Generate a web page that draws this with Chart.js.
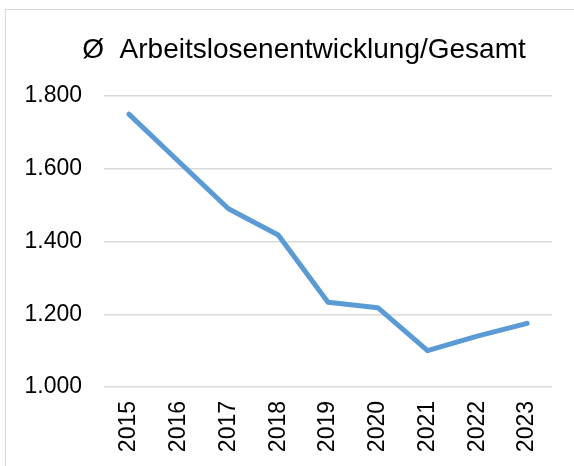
<!DOCTYPE html>
<html>
<head>
<meta charset="utf-8">
<script src="https://cdn.jsdelivr.net/npm/chart.js@4/dist/chart.umd.min.js"></script>
<style>
  html, body { margin: 0; padding: 0; background: #fff; overflow: hidden; }
  #frame { position: absolute; left: 5px; top: 9px; width: 620px; height: 520px; border: 1px solid #d9d9d9; }
  #wrap { position: absolute; left: 0; top: 0; width: 574px; height: 466px; }
</style>
</head>
<body>
<div id="frame"></div>
<div id="wrap"><canvas id="lineChart" width="574" height="466"></canvas></div>
<script>
// Daten
var years = ['2015', '2016', '2017', '2018', '2019', '2020', '2021', '2022', '2023'];
var arbeitslose = [1750, 1620, 1490, 1418, 1233, 1218, 1100, 1140, 1175];
var yTicks = [1000, 1200, 1400, 1600, 1800];
var chartTitle = 'Ø  Arbeitslosenentwicklung/Gesamt';

function fmtDe(v) {
    // 1800 -> 1.800
    return String(v).replace(/\B(?=(\d{3})+(?!\d))/g, '.');
}

var ctx = document.getElementById('lineChart').getContext('2d');
var fontFam = '"Liberation Sans", Arial, sans-serif';

// Titel etwas nach rechts versetzt (wie im Original, über dem ganzen Rahmen zentriert)
var titlePlugin = {
    id: 'titelText',
    afterDraw: function(chart) {
        var c = chart.ctx;
        c.save();
        c.font = '28px ' + fontFam;
        c.fillStyle = '#000';
        c.textAlign = 'center';
        c.textBaseline = 'alphabetic';
        c.fillText(chartTitle, 304, 58);
        c.restore();
    }
};

var lineChart = new Chart(ctx, {
    type: 'line',
    data: {
        labels: years,
        datasets: [{
            label: 'Gesamt',
            data: arbeitslose,
            borderColor: '#5b9bd5',
            backgroundColor: '#5b9bd5',
            borderWidth: 5,
            borderCapStyle: 'round',
            borderJoinStyle: 'round',
            pointRadius: 0,
            tension: 0,
            fill: false
        }]
    },
    options: {
        responsive: false,
        animation: false,
        layout: { padding: { top: 96, right: 22, bottom: 0, left: 0 } },
        plugins: {
            legend: { display: false },
            tooltip: { enabled: false },
            title: { display: false }
        },
        scales: {
            x: {
                offset: true,
                grid: { display: false, drawTicks: false },
                border: { display: false },
                ticks: {
                    color: '#000',
                    font: { family: fontFam, size: 23 },
                    minRotation: 90,
                    maxRotation: 90,
                    padding: 14,
                    autoSkip: false
                },
                afterFit: function(scale) { scale.height = 79; }
            },
            y: {
                min: 1000,
                max: 1800,
                grid: { color: '#d9d9d9', lineWidth: 1.5, drawTicks: false },
                border: { display: false },
                afterBuildTicks: function(scale) {
                    scale.ticks = yTicks.map(function(v) { return { value: v }; });
                },
                ticks: {
                    color: '#000',
                    font: { family: fontFam, size: 23 },
                    padding: 22,
                    callback: function(v) { return fmtDe(v); }
                },
                afterFit: function(scale) { scale.width = 104; }
            }
        }
    },
    plugins: [titlePlugin]
});
</script>
</body>
</html>
